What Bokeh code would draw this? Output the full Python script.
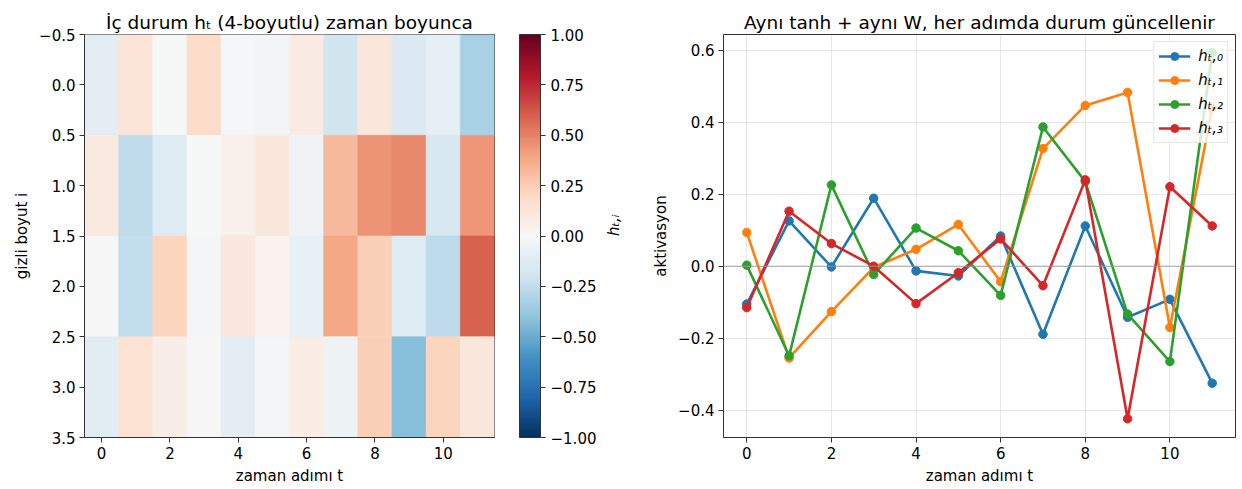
import math
from bokeh.plotting import figure
from bokeh.layouts import row
from bokeh.models import (Range1d, FixedTicker, ColorBar, LinearColorMapper, LinearAxis,
                          Span, ColumnDataSource, Legend, LegendItem)
from bokeh.embed import file_html
from bokeh.resources import INLINE

# ---------------- data ----------------
steps = list(range(12))
dims = [0, 1, 2, 3]
h_0 = [-0.105, 0.126, -0.002, 0.189, -0.013, -0.027, 0.084, -0.189, 0.112, -0.142, -0.092, -0.325]
h_1 = [0.094, -0.255, -0.126, -0.003, 0.047, 0.116, -0.043, 0.327, 0.447, 0.483, -0.170, 0.440]
h_2 = [0.003, -0.249, 0.226, -0.023, 0.106, 0.043, -0.081, 0.387, 0.235, -0.133, -0.265, 0.593]
h_3 = [-0.115, 0.153, 0.063, 0.000, -0.104, -0.018, 0.076, -0.054, 0.240, -0.424, 0.221, 0.112]
series = [h_0, h_1, h_2, h_3]
series_labels = ["hₜ,₀", "hₜ,₁", "hₜ,₂", "hₜ,₃"]
series_colors = ["#1f77b4", "#ff7f0e", "#2ca02c", "#d62728"]

heat_yticks = [-0.5, 0.0, 0.5, 1.0, 1.5, 2.0, 2.5, 3.0, 3.5]
x_ticks = [0, 2, 4, 6, 8, 10]
cb_ticks = [-1.0, -0.75, -0.5, -0.25, 0.0, 0.25, 0.5, 0.75, 1.0]
line_yticks = [-0.4, -0.2, 0.0, 0.2, 0.4, 0.6]

FONT = "DejaVu Sans"
SPINE = "#333333"
TICK_FS = "15px"
LABEL_FS = "15px"
TITLE_FS = "18.5px"

def fmt(v, nd):
    s = f"{v:.{nd}f}"
    return s.replace("-", "\u2212")

# matplotlib RdBu_r colormap (anchor colours, linearly interpolated)
anchors = ["#053061", "#2166ac", "#4393c3", "#92c5de", "#d1e5f0", "#f7f7f7",
           "#fddbc7", "#f4a582", "#d6604d", "#b2182b", "#67001f"]
def hex2rgb(h):
    return tuple(int(h[i:i + 2], 16) for i in (1, 3, 5))
argb = [hex2rgb(a) for a in anchors]
palette = []
for k in range(256):
    pos = k / 255 * (len(argb) - 1)
    i = min(int(pos), len(argb) - 2)
    f = pos - i
    c = [round(argb[i][j] + (argb[i + 1][j] - argb[i][j]) * f) for j in range(3)]
    palette.append("#%02x%02x%02x" % tuple(c))

mapper = LinearColorMapper(palette=palette, low=-1, high=1)

# ---------------- heatmap ----------------
xs, ys, vs = [], [], []
for i, s in zip(dims, series):
    for tt, v in zip(steps, s):
        xs.append(tt); ys.append(i); vs.append(v)
hsrc = ColumnDataSource(dict(x=xs, y=ys, v=vs))

p1 = figure(width=640, height=489, output_backend="svg", toolbar_location=None,
            x_range=Range1d(-0.5, 11.5), y_range=Range1d(3.5, -0.5),
            min_border_left=84, min_border_right=146, min_border_top=34, min_border_bottom=52,
            frame_width=410, frame_height=403)
p1.rect(x="x", y="y", width=1, height=1, source=hsrc,
        fill_color={"field": "v", "transform": mapper},
        line_color={"field": "v", "transform": mapper}, line_width=0.6)
p1.title.text = "İç durum hₜ (4-boyutlu) zaman boyunca"
p1.xaxis.axis_label = "zaman adımı t"
p1.yaxis.axis_label = "gizli boyut i"
p1.xaxis.ticker = FixedTicker(ticks=x_ticks)
p1.yaxis.ticker = FixedTicker(ticks=heat_yticks)
p1.yaxis.major_label_overrides = {v: fmt(v, 1) for v in heat_yticks}
p1.xgrid.visible = False
p1.ygrid.visible = False

cb = ColorBar(color_mapper=mapper, width=21, height=403, padding=0, margin=0,
              location=(25, 0), ticker=FixedTicker(ticks=cb_ticks),
              major_label_overrides={v: fmt(v, 2) for v in cb_ticks},
              major_tick_out=5, major_tick_in=0, major_tick_line_color=SPINE,
              minor_tick_line_color=None, bar_line_color=SPINE,
              label_standoff=5, major_label_text_font=FONT,
              major_label_text_font_size=TICK_FS, major_label_text_color="black",
              background_fill_alpha=0, border_line_color=None)
p1.add_layout(cb, "right")

# colour-bar label as an otherwise empty axis next to the colour bar
p1.extra_y_ranges = {"cb": Range1d(0, 1)}
cb_axis = LinearAxis(y_range_name="cb", ticker=FixedTicker(ticks=[]),
                     axis_label="hₜ,ᵢ", axis_line_color=None,
                     major_tick_line_color=None, minor_tick_line_color=None,
                     major_label_text_font_size="0px",
                     axis_label_text_font=FONT, axis_label_text_font_size=LABEL_FS,
                     axis_label_text_font_style="italic", axis_label_text_color="black",
                     axis_label_standoff=14)
cb_axis.axis_label_orientation = math.pi / 2
p1.add_layout(cb_axis, "right")

# ---------------- line plot ----------------
p2 = figure(width=602, height=489, output_backend="svg", toolbar_location=None,
            x_range=Range1d(-0.55, 11.55), y_range=Range1d(-0.476, 0.644),
            min_border_left=83, min_border_right=7, min_border_top=34, min_border_bottom=52,
            frame_width=512, frame_height=403)
p2.add_layout(Span(location=0, dimension="width", line_color="#999999", line_width=0.9))
items = []
for s, lab, col in zip(series, series_labels, series_colors):
    src = ColumnDataSource(dict(x=steps, y=s))
    r1 = p2.line("x", "y", source=src, line_color=col, line_width=2.6)
    r2 = p2.scatter("x", "y", source=src, size=8.5, fill_color=col, line_color=col)
    items.append(LegendItem(label=lab, renderers=[r1, r2]))
leg = Legend(items=items, location="top_right")
leg.label_text_font = FONT
leg.label_text_font_size = "15px"
leg.label_text_font_style = "italic"
leg.label_text_color = "black"
leg.glyph_width = 32
leg.glyph_height = 20
leg.spacing = 4
leg.padding = 4
leg.label_standoff = 8
leg.margin = 7
leg.border_line_color = "#cccccc"
leg.background_fill_alpha = 0.8
p2.add_layout(leg)
p2.title.text = "Aynı tanh + aynı W, her adımda durum güncellenir"
p2.xaxis.axis_label = "zaman adımı t"
p2.yaxis.axis_label = "aktivasyon"
p2.xaxis.ticker = FixedTicker(ticks=x_ticks)
p2.yaxis.ticker = FixedTicker(ticks=line_yticks)
p2.yaxis.major_label_overrides = {v: fmt(v, 1) for v in line_yticks}
p2.grid.grid_line_color = "#b0b0b0"
p2.grid.grid_line_alpha = 0.3

for p in (p1, p2):
    p.title.align = "center"
    p.title.text_font = FONT
    p.title.text_font_size = TITLE_FS
    p.title.text_font_style = "normal"
    p.title.text_color = "black"
    p.title.standoff = 4
    p.outline_line_color = SPINE
    p.outline_line_width = 1
    for ax in (p.xaxis[0], p.yaxis[0]):
        ax.axis_label_text_font = FONT
        ax.axis_label_text_font_size = LABEL_FS
        ax.axis_label_text_font_style = "normal"
        ax.axis_label_text_color = "black"
        ax.major_label_text_font = FONT
        ax.major_label_text_font_size = TICK_FS
        ax.major_label_text_color = "black"
        ax.major_tick_out = 5
        ax.major_tick_in = 0
        ax.minor_tick_line_color = None
        ax.axis_line_color = SPINE
        ax.major_tick_line_color = SPINE
        ax.major_label_standoff = 4
        ax.axis_label_standoff = 5
    p.background_fill_color = "white"
    p.border_fill_color = "white"

layout = row(p1, p2, spacing=0)
open("out.html", "w").write(file_html(layout, INLINE))
